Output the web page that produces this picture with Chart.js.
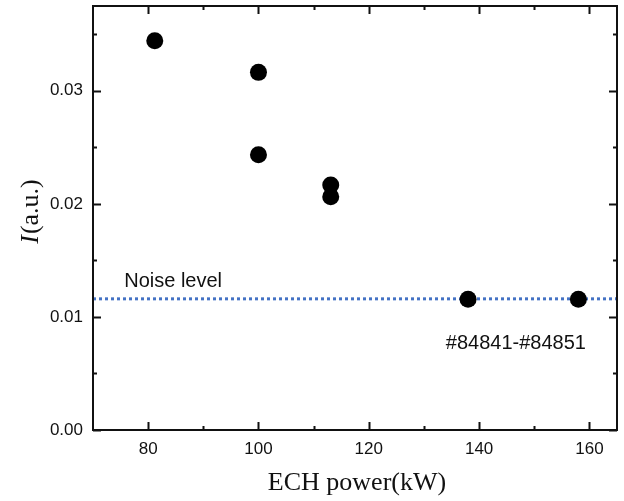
<!DOCTYPE html>
<html>
<head>
<meta charset="utf-8">
<script src="https://cdn.jsdelivr.net/npm/chart.js@4"></script>
<style>
  html, body { margin: 0; padding: 0; background: #fff; }
  #wrap { width: 624px; height: 501px; }
</style>
</head>
<body>
<div id="wrap"><canvas id="chart" width="624" height="501"></canvas></div>
<script>
// ECH power (kW) vs intensity I (a.u.)
const powerKW = [81.2, 100, 100, 113.1, 113.1, 138, 158];
const intensity = [0.03443, 0.03163, 0.02434, 0.02166, 0.02063, 0.01156, 0.01156];
const noiseLevel = 0.0116;

const xRange = [70, 165];
const yRange = [0, 0.0375];
const xMajor = [80, 100, 120, 140, 160];
const xMinor = [90, 110, 130, 150];
const yMajor = [0, 0.01, 0.02, 0.03];
const yMinor = [0.005, 0.015, 0.025, 0.035];

const SANS = "'Liberation Sans', Arial, sans-serif";
const SERIF = "'Liberation Serif', 'Times New Roman', serif";
const INK = '#111';

// frame, inward ticks, axis titles and text labels
const framePlugin = {
  id: 'frame',
  afterDraw(chart) {
    const {ctx, chartArea: a, scales: {x, y}} = chart;
    ctx.save();
    ctx.strokeStyle = INK;
    ctx.lineWidth = 2;
    ctx.strokeRect(a.left, a.top, a.right - a.left, a.bottom - a.top);

    const tick = (vals, len) => {
      ctx.beginPath();
      for (const v of vals) {
        const px = Math.round(x.getPixelForValue(v)) + 0.5;
        ctx.moveTo(px, a.bottom); ctx.lineTo(px, a.bottom - len);
        ctx.moveTo(px, a.top); ctx.lineTo(px, a.top + len);
      }
      ctx.stroke();
    };
    const ytick = (vals, len) => {
      ctx.beginPath();
      for (const v of vals) {
        const py = Math.round(y.getPixelForValue(v)) + 0.5;
        ctx.moveTo(a.left, py); ctx.lineTo(a.left + len, py);
        ctx.moveTo(a.right, py); ctx.lineTo(a.right - len, py);
      }
      ctx.stroke();
    };
    tick(xMajor, 8); tick(xMinor, 4);
    ytick(yMajor, 8); ytick(yMinor, 4);

    // annotation texts
    ctx.fillStyle = INK;
    ctx.font = '20px ' + SANS;
    ctx.textBaseline = 'alphabetic';
    ctx.textAlign = 'left';
    ctx.fillText('Noise level', x.getPixelForValue(75.66), y.getPixelForValue(0.01262));
    ctx.fillText('#84841-#84851', x.getPixelForValue(133.96), y.getPixelForValue(0.00716));

    // x title
    ctx.font = '26px ' + SERIF;
    ctx.textAlign = 'center';
    ctx.fillText('ECH power(kW)', (a.left + a.right) / 2 + 2, 490);

    // y title with italic I
    ctx.translate(38, 212);
    ctx.rotate(-Math.PI / 2);
    ctx.textAlign = 'left';
    const it = 'italic 26px ' + SERIF, up = '26px ' + SERIF;
    ctx.font = it; const w1 = ctx.measureText('I').width;
    ctx.font = up; const w2 = ctx.measureText('(a.u.)').width;
    const x0 = -(w1 + w2) / 2;
    ctx.font = it; ctx.fillText('I', x0, 0);
    ctx.font = up; ctx.fillText('(a.u.)', x0 + w1 + 1, 0);
    ctx.restore();
  }
};

new Chart(document.getElementById('chart'), {
  type: 'scatter',
  data: {
    datasets: [
      {
        type: 'line',
        data: [{x: xRange[0], y: noiseLevel}, {x: xRange[1], y: noiseLevel}],
        borderColor: '#4472C4',
        borderWidth: 3,
        borderDash: [3, 3],
        pointRadius: 0,
        fill: false,
        order: 2
      },
      {
        data: powerKW.map((p, i) => ({x: p, y: intensity[i]})),
        backgroundColor: '#000',
        borderWidth: 0,
        pointRadius: 8.5,
        pointHoverRadius: 8.5,
        order: 1
      }
    ]
  },
  options: {
    responsive: false,
    animation: false,
    events: [],
    layout: {autoPadding: false, padding: {top: 6, right: 7, left: 0, bottom: 0}},
    plugins: {legend: {display: false}, tooltip: {enabled: false}},
    scales: {
      x: {
        type: 'linear',
        min: xRange[0], max: xRange[1],
        afterBuildTicks: s => { s.ticks = xMajor.map(v => ({value: v})); },
        afterFit: s => { s.height = 71; s.paddingLeft = 0; s.paddingRight = 0; },
        grid: {display: false, drawTicks: false},
        border: {display: false},
        ticks: {
          padding: 9,
          color: INK,
          font: {family: SANS, size: 17},
          maxRotation: 0,
          callback: v => String(v)
        }
      },
      y: {
        type: 'linear',
        min: yRange[0], max: yRange[1],
        afterBuildTicks: s => { s.ticks = yMajor.map(v => ({value: v})); },
        afterFit: s => { s.width = 93; s.paddingTop = 0; s.paddingBottom = 0; },
        grid: {display: false, drawTicks: false},
        border: {display: false},
        ticks: {
          padding: 10,
          color: INK,
          font: {family: SANS, size: 17},
          callback: v => v.toFixed(2)
        }
      }
    }
  },
  plugins: [framePlugin]
});
</script>
</body>
</html>
